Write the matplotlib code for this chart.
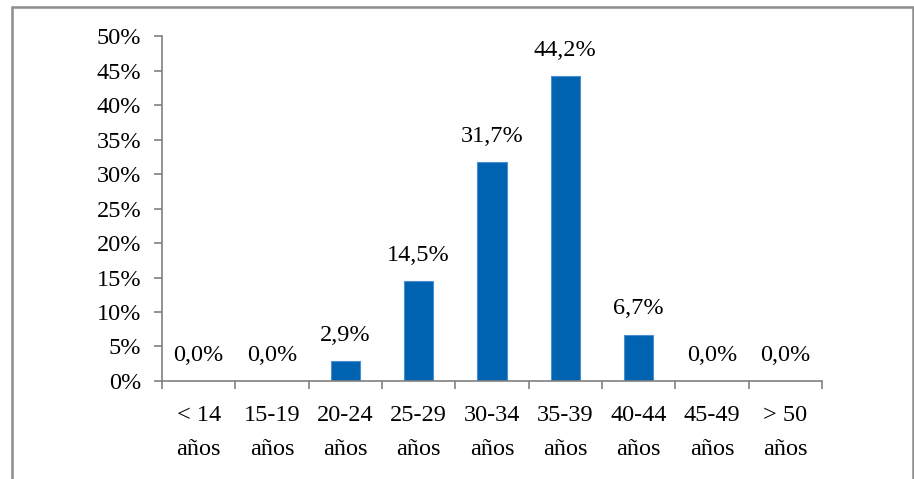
import matplotlib.pyplot as plt
from matplotlib.patches import Rectangle
import numpy as np

# Datos: distribución por grupo de edad
grupos = ['< 14\naños', '15-19\naños', '20-24\naños', '25-29\naños', '30-34\naños',
          '35-39\naños', '40-44\naños', '45-49\naños', '> 50\naños']
porcentajes = [0.0, 0.0, 2.9, 14.5, 31.7, 44.2, 6.7, 0.0, 0.0]
yticks = [0, 5, 10, 15, 20, 25, 30, 35, 40, 45, 50]

plt.rcParams['font.family'] = ['Liberation Serif', 'DejaVu Serif']
plt.rcParams['font.size'] = 17.5

fig = plt.figure(figsize=(9.14, 4.79), dpi=100)
ax = fig.add_axes([0.1772, 0.2046, 0.7221, 0.7202])

x = np.arange(len(grupos))
ax.bar(x, porcentajes, width=0.4, color='#0063B1', edgecolor='#4A90D0', linewidth=0.8)

for xi, v in zip(x, porcentajes):
    ax.annotate(f'{v:.1f}%'.replace('.', ','), (xi, v), xytext=(0, 11),
                textcoords='offset points', ha='center', va='bottom')

ax.set_xlim(-0.5, len(grupos) - 0.5)
ax.set_ylim(0, 50)
ax.set_yticks(yticks)
ax.set_yticklabels([f'{t}%' for t in yticks])

# marcas en los límites, etiquetas en el centro
ax.set_xticks(np.arange(-0.5, len(grupos)), labels=[])
ax.set_xticks(x, labels=grupos, minor=True)
ax.tick_params(axis='x', which='major', direction='out', length=6, color='#808080', width=1.2)
ax.tick_params(axis='x', which='minor', length=0, pad=17)
ax.tick_params(axis='y', direction='out', length=6, color='#808080', width=1.2, pad=9)
for lbl in ax.get_xticklabels(minor=True):
    lbl.set_linespacing(1.85)

for s in ['top', 'right']:
    ax.spines[s].set_visible(False)
for s in ['left', 'bottom']:
    ax.spines[s].set_color('#808080')
    ax.spines[s].set_linewidth(1.2)

# marco exterior
fig.patches.append(Rectangle((12 / 914, -0.05), 901 / 914, 1 - 7 / 479 + 0.05,
                             transform=fig.transFigure, fill=False,
                             edgecolor='#8C8C8C', linewidth=1.8, clip_on=False))

fig.savefig('out.png', dpi=100)
